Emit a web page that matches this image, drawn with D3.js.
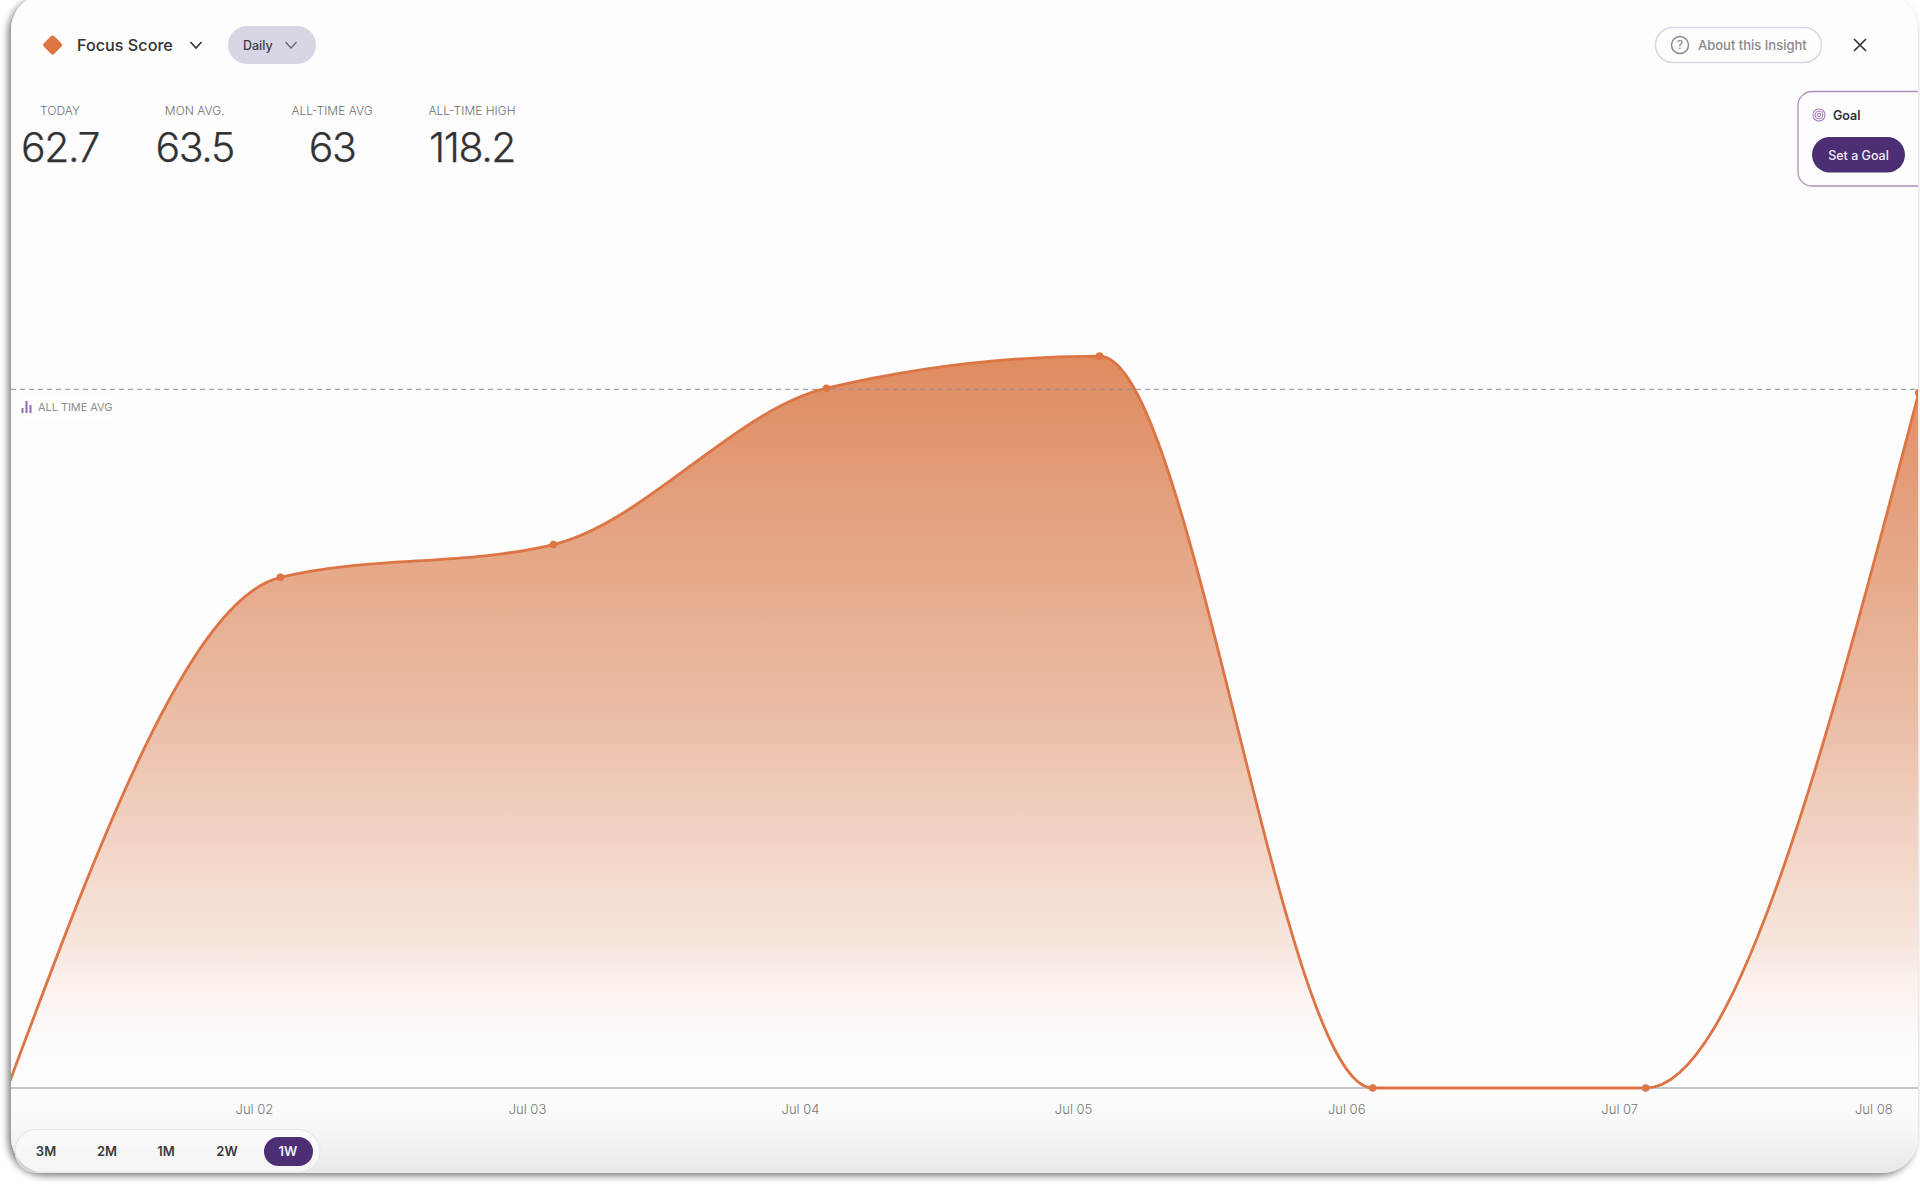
<!DOCTYPE html>
<html><head><meta charset="utf-8">
<style>html,body{margin:0;padding:0;background:#fff}svg{display:block}text{font-family:Inter,"Noto Sans",sans-serif}</style>
<script src="https://cdnjs.cloudflare.com/ajax/libs/d3/7.8.5/d3.min.js"></script>
</head><body><div id="c"></div>
<script>
const dates = ["2024-07-01","2024-07-02","2024-07-03","2024-07-04","2024-07-05","2024-07-06","2024-07-07","2024-07-08"];
const scores = [0, 46.05, 49.0, 63.1, 66.0, 0, 0, 62.7];
const allTimeAvg = 63;
const tickLabels = ["Jul 02","Jul 03","Jul 04","Jul 05","Jul 06","Jul 07","Jul 08"];
const statLabels = ["TODAY","MON AVG.","ALL-TIME AVG","ALL-TIME HIGH"];
const statValues = ["62.7","63.5","63","118.2"];
const ranges = ["3M","2M","1M","2W","1W"];

const W=1920,H=1187;
const parse=d3.utcParse("%Y-%m-%d");
const data=dates.map((d,i)=>({date:parse(d),v:scores[i]}));
const svg=d3.select("#c").append("svg").attr("width",W).attr("height",H);
const defs=svg.append("defs");

const x=d3.scaleUtc().domain([parse(dates[1]),parse(dates[7])]).range([280.4,1918.8]);
const y=d3.scaleLinear().domain([0,63]).range([1088,389.3]);

const sh=defs.append("filter").attr("id","sh").attr("x","-2%").attr("y","-2%").attr("width","104%").attr("height","104%");
sh.append("feDropShadow").attr("dx",-3).attr("dy",3).attr("stdDeviation",3.5).attr("flood-color","#000").attr("flood-opacity",.5);
const cg=defs.append("linearGradient").attr("id","cg").attr("x1",0).attr("x2",0).attr("y1",0).attr("y2",1);
[[0,"#fefdfe"],[.925,"#fefdfe"],[.96,"#f8f8f8"],[1,"#e8e8e8"]].forEach(s=>cg.append("stop").attr("offset",s[0]).attr("stop-color",s[1]));
const ag=defs.append("linearGradient").attr("id","ag").attr("gradientUnits","userSpaceOnUse").attr("x1",0).attr("x2",0).attr("y1",y(66)).attr("y2",y(0));
[[0,"#df8b60",1],[.5,"#ebbea7",1],[.8,"#f6e2d8",.9],[1,"#fefbfa",0]].forEach(s=>ag.append("stop").attr("offset",s[0]).attr("stop-color",s[1]).attr("stop-opacity",s[2]));
const cardR={x:11,y:-6,w:1907,h:1179,r:36};
defs.append("clipPath").attr("id","cc").append("rect").attr("x",cardR.x).attr("y",cardR.y).attr("width",cardR.w).attr("height",cardR.h).attr("rx",cardR.r);

svg.append("rect").attr("x",cardR.x).attr("y",cardR.y).attr("width",cardR.w).attr("height",cardR.h).attr("rx",cardR.r)
  .attr("fill","url(#cg)").attr("filter","url(#sh)");

const g=svg.append("g").attr("clip-path","url(#cc)");
const curve=d3.curveMonotoneX;
g.append("path").datum(data).attr("fill","url(#ag)")
  .attr("d",d3.area().curve(curve).x(d=>x(d.date)).y0(y(0)).y1(d=>y(d.v)));
g.append("line").attr("x1",11).attr("x2",1920).attr("y1",y(0)).attr("y2",y(0)).attr("stroke","#b5b3b5").attr("stroke-width",1.5);
g.append("line").attr("x1",11).attr("x2",1920).attr("y1",y(allTimeAvg)).attr("y2",y(allTimeAvg)).attr("stroke","#8f8f8f").attr("stroke-width",1).attr("stroke-dasharray","5 4");
g.append("path").datum(data).attr("fill","none").attr("stroke","#dc7444").attr("stroke-width",2.8)
  .attr("d",d3.line().curve(curve).x(d=>x(d.date)).y(d=>y(d.v)));
g.selectAll("circle.p").data(data.slice(1)).join("circle").attr("class","p").attr("cx",d=>x(d.date)).attr("cy",d=>y(d.v)).attr("r",3.8).attr("fill","#dc7444");

// axis
const axis=d3.axisBottom(x).tickValues(data.slice(1).map(d=>d.date)).tickSize(0).tickPadding(0)
  .tickFormat((d,i)=>tickLabels[i]);
const ax=svg.append("g").attr("transform",`translate(0,${y(0)})`).call(axis);
ax.select(".domain").remove();
ax.selectAll("text").attr("dx",(d,i)=>i===6?-45.5:-26.5).attr("y",21.5).attr("dy","0.32em").attr("fill","#777").style("font-size","13px").style("font-family","Inter").style("font-weight",300);

// header
svg.append("rect").attr("x",-9).attr("y",-9).attr("width",18).attr("height",18).attr("rx",3).attr("fill","#dc7444")
  .attr("transform","translate(52.6,45) rotate(45) scale(.82)");
const label=(t,xp,yp,size,weight,fill,anchor="start")=>svg.append("text").attr("x",xp).attr("y",yp).attr("dy","0.36em").attr("font-size",size).attr("font-weight",weight).attr("fill",fill).attr("text-anchor",anchor).text(t);
const chev=(cx,cy,w,h,col,sw)=>svg.append("path").attr("d",`M${cx-w},${cy-h}L${cx},${cy+h}L${cx+w},${cy-h}`).attr("fill","none").attr("stroke",col).attr("stroke-width",sw);
label("Focus Score",77,45,16.2,500,"#333");
chev(196,45,5.5,3,"#333",1.6);
svg.append("rect").attr("x",228).attr("y",26).attr("width",88).attr("height",38).attr("rx",19).attr("fill","#d9d5e5");
label("Daily",243,45,12.5,500,"#3b3b46");
chev(291,45,5.5,3,"#66626f",1.2);

// stats
const statX=[60,194.7,332,472];
statLabels.forEach((t,i)=>label(t,statX[i],110.5,12,300,"#6f6f6f","middle"));
statValues.forEach((t,i)=>label(t,statX[i],147,41,300,"#333","middle").attr("letter-spacing",-1.4).attr("stroke","#333").attr("stroke-width",.25));

// about
svg.append("rect").attr("x",1655.5).attr("y",27.5).attr("width",166).attr("height",35).attr("rx",17.5).attr("fill","none").attr("stroke","#d9d5e5").attr("stroke-width",1.5);
svg.append("circle").attr("cx",1680).attr("cy",45).attr("r",8.5).attr("fill","none").attr("stroke","#8a8a8a").attr("stroke-width",1.5);
label("?",1680,45,11.5,500,"#8a8a8a","middle");
label("About this Insight",1698,45,13,500,"#8a8a8a");
svg.append("path").attr("d","M1854,39L1866,51M1866,39L1854,51").attr("stroke","#333").attr("stroke-width",1.7).attr("fill","none");

// goal
svg.append("path").attr("d","M1918,91.5H1812a14,14 0 0 0 -14,14V172a14,14 0 0 0 14,14H1918").attr("fill","none").attr("stroke","#b08fc0").attr("stroke-width",1.3);
[6,3.8,1.6].forEach(r=>svg.append("circle").attr("cx",1819).attr("cy",115).attr("r",r).attr("fill","none").attr("stroke","#a77fc0").attr("stroke-width",1.1));
label("Goal",1833,115,12.5,600,"#333");
svg.append("rect").attr("x",1812).attr("y",137).attr("width",93).attr("height",35.5).attr("rx",17.7).attr("fill","#4b2e73");
label("Set a Goal",1858.5,155,12.5,500,"#f1ecf6","middle");

// legend
svg.append("rect").attr("x",16).attr("y",396).attr("width",104).attr("height",24).attr("rx",6).attr("fill","#fff").attr("opacity",.6);
[[22.5,408,413],[26.5,401,413],[30.5,405,413]].forEach(b=>svg.append("line").attr("x1",b[0]).attr("x2",b[0]).attr("y1",b[1]).attr("y2",b[2]).attr("stroke","#8f6bb0").attr("stroke-width",2));
label("ALL TIME AVG",38,407.5,10.9,400,"#8d8d8d");

// ranges
svg.append("rect").attr("x",15).attr("y",1129.5).attr("width",305).attr("height",43).attr("rx",21.5).attr("fill","#fdfdfd").attr("fill-opacity",.55).attr("stroke","#e3e2ea").attr("stroke-width",1);
svg.append("rect").attr("x",264).attr("y",1137).attr("width",49).attr("height",29).attr("rx",14.5).attr("fill","#4b2e73");
const rangeX=[46,107,166,227,288];
ranges.forEach((t,i)=>label(t,rangeX[i],1151.5,13,600,i===4?"#f3eef8":"#3a3a3a","middle"));
</script></body></html>
